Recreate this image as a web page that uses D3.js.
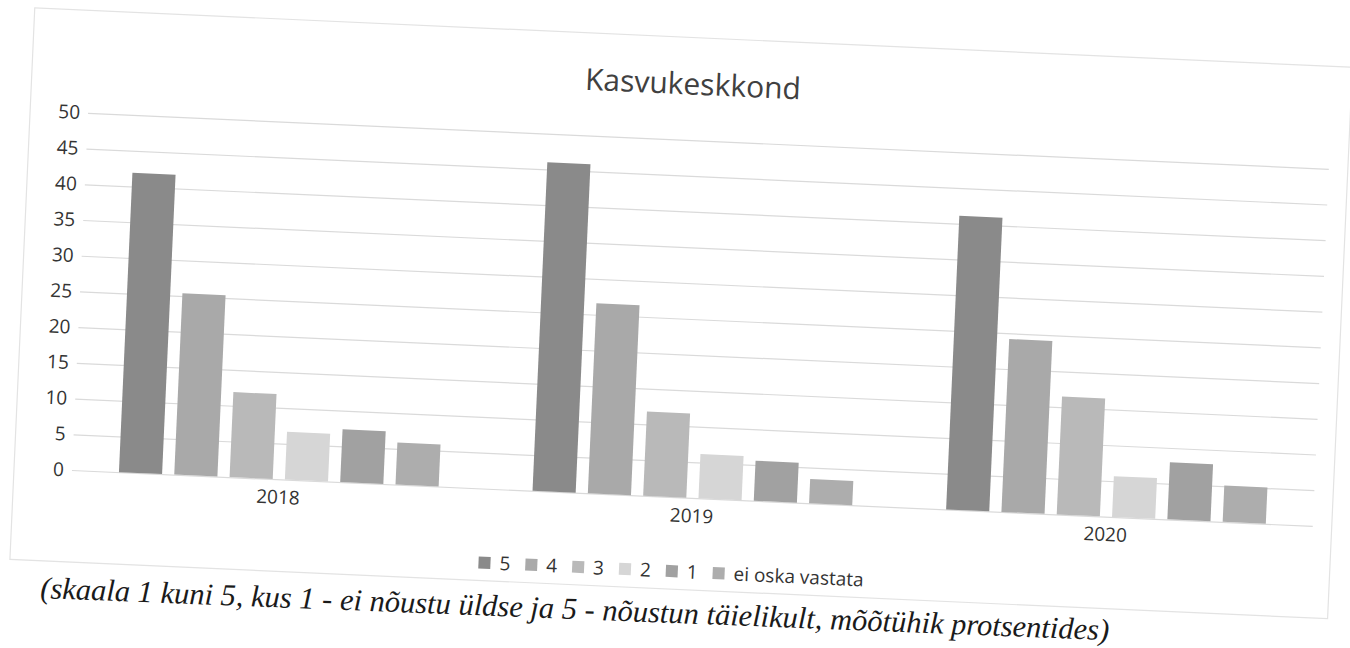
<!DOCTYPE html>
<html>
<head>
<meta charset="utf-8">
<script src="https://cdn.jsdelivr.net/npm/d3@7"></script>
<style>
  body { margin: 0; background: #ffffff; }
</style>
</head>
<body>
<div id="grafico"></div>
<script>

// dati del grafico (percentuali)
let anni = ["2018", "2019", "2020"];
let serie = ["5", "4", "3", "2", "1", "ei oska vastata"];
let valori5 = [41.9, 46.0, 41.1];
let valori4 = [25.4, 26.6, 24.2];
let valori3 = [11.9, 11.8, 16.5];
let valori2 = [6.7, 6.2, 5.7];
let valori1 = [7.4, 5.6, 8.0];
let valoriEi = [5.9, 3.4, 5.1];
let tacche = [0, 5, 10, 15, 20, 25, 30, 35, 40, 45, 50];
let titolo = "Kasvukeskkond";
let nota = "(skaala 1 kuni 5, kus 1 - ei nõustu üldse ja 5 - nõustun täielikult, mõõtühik protsentides)";

let colori = ["#8a8a8a", "#a9a9a9", "#b9b9b9", "#d6d6d6", "#a1a1a1", "#adadad"];

let larghezza = 1350;
let altezza = 648;
let font = "'Open Sans', 'Noto Sans', sans-serif";

// tabella per il grafico
let tabella = anni.map((anno, i) => ({
    anno: anno,
    valori: [valori5[i], valori4[i], valori3[i], valori2[i], valori1[i], valoriEi[i]]
}));

let svg = d3.select("#grafico")
    .append("svg")
    .attr("width", larghezza)
    .attr("height", altezza);

// il foglio scansionato e' un po' storto
let g = svg.append("g")
    .attr("transform", "rotate(2.58, 71.7, 470)");

// bordo del grafico
g.append("rect")
    .attr("x", 14)
    .attr("y", 10)
    .attr("width", 1319)
    .attr("height", 552)
    .style("fill", "none")
    .style("stroke", "#e3e3e3")
    .style("stroke-width", 1.2);

let sinistra = 72, destra = 1314, basso = 470, alto = 112.5;

let x0 = d3.scaleBand()
    .domain(anni)
    .range([sinistra, destra])
    .paddingInner(0.227)
    .paddingOuter(0.1135);

let x1 = d3.scaleBand()
    .domain(serie)
    .range([0, x0.bandwidth()])
    .paddingInner(0.22);

let y = d3.scaleLinear()
    .domain([0, 50])
    .range([basso, alto]);

// asse y con la griglia
let asseY = g.append("g")
    .attr("transform", `translate(${sinistra},0)`)
    .call(d3.axisLeft(y).tickValues(tacche).tickSize(-(destra - sinistra)).tickPadding(8));
asseY.select(".domain").remove();
asseY.selectAll("line")
    .style("stroke", "#dadada")
    .style("stroke-width", 1.2);
asseY.selectAll("text")
    .style("fill", "#333333")
    .style("font-family", font)
    .style("font-size", "19px");

// asse x
let asseX = g.append("g")
    .attr("transform", `translate(0,${basso})`)
    .call(d3.axisBottom(x0).tickSize(0).tickPadding(11));
asseX.select(".domain").remove();
asseX.selectAll("text")
    .style("fill", "#333333")
    .style("font-family", font)
    .style("font-size", "19px");

// barre
let gruppi = g.append("g")
    .selectAll("g")
    .data(tabella)
    .enter().append("g")
    .attr("transform", (d) => `translate(${x0(d.anno)},0)`);

gruppi.selectAll("rect")
    .data((d) => d.valori.map((v, i) => ({ serie: serie[i], valore: v, colore: colori[i] })))
    .enter().append("rect")
    .attr("x", (d) => x1(d.serie))
    .attr("y", (d) => y(d.valore))
    .attr("width", x1.bandwidth())
    .attr("height", (d) => y(0) - y(d.valore))
    .style("fill", (d) => d.colore);

// titolo
g.append("text")
    .attr("x", 675)
    .attr("y", 67)
    .text(titolo)
    .style("text-anchor", "middle")
    .style("fill", "#404040")
    .style("font-family", font)
    .style("font-size", "30px");

// legenda
let legenda = g.append("g");
let posX = 0;
serie.forEach((s, i) => {
    let voce = legenda.append("g").attr("transform", `translate(${posX},0)`);
    voce.append("rect")
        .attr("x", 0)
        .attr("y", -6)
        .attr("width", 12)
        .attr("height", 12)
        .style("fill", colori[i]);
    let t = voce.append("text")
        .attr("x", 21)
        .attr("y", 0)
        .attr("dy", "0.35em")
        .text(s)
        .style("fill", "#333333")
        .style("font-family", font)
        .style("font-size", "19px");
    posX += 21 + t.node().getComputedTextLength() + 15;
});
let larghezzaLegenda = posX - 15;
legenda.attr("transform", `translate(${675 - larghezzaLegenda / 2},544)`);

// nota sotto il grafico
svg.append("text")
    .attr("x", 40)
    .attr("y", 598)
    .attr("transform", "rotate(2.26, 40, 598)")
    .text(nota)
    .style("fill", "#1a1a1a")
    .style("font-family", "'Liberation Serif', 'DejaVu Serif', serif")
    .style("font-style", "italic")
    .style("font-size", "30.5px");

</script>
</body>
</html>
